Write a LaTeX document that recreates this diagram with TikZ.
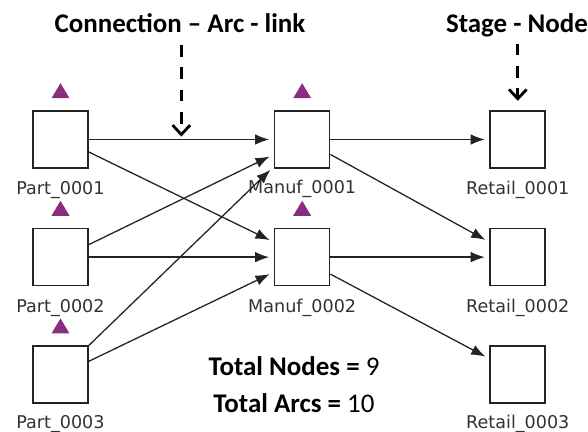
\documentclass[tikz,border=0pt]{standalone}
\usepackage{fontspec}
\setmainfont{Carlito}
\newfontfamily\stagefont{DejaVu Sans}
\usepackage{xcolor}
\usetikzlibrary{arrows.meta, calc, positioning}

\definecolor{flagpurple}{RGB}{136,45,128}
\definecolor{boxgray}{RGB}{35,35,35}
\definecolor{labelgray}{RGB}{50,50,50}

\begin{document}
\begin{tikzpicture}[x=0.03cm, y=-0.03cm,
    stage/.style={draw=boxgray, line width=1.4pt, fill=white, minimum width=1.65cm, minimum height=1.71cm, inner sep=0pt},
    lbl/.style={text=labelgray, font=\stagefont\fontsize{15}{17}\selectfont, inner sep=0pt, anchor=base},
    arc/.style={line width=1.1pt, draw=boxgray, shorten >=4pt, -{Latex[length=12pt, width=9pt]}},
    pointer/.style={line width=2.6pt, dash pattern=on 10pt off 9pt, -{Straight Barb[length=8pt, width=15pt, line width=2.4pt]}},
    title/.style={font=\bfseries\fontsize{23}{27}\selectfont, inner sep=0pt, anchor=base},
    flag/.style={fill=flagpurple}]
    \useasboundingbox (0,0) rectangle (588,432);

    % Stufen: Teile, Fertigung, Handel
    \node[stage] (p1) at (60.5,139.5) {};
    \node[stage, below=1.77cm of p1] (p2) {};
    \node[stage, below=1.77cm of p2] (p3) {};
    \node[stage, right=5.55cm of p1] (m1) {};
    \node[stage, right=5.55cm of p2] (m2) {};
    \node[stage, right=4.77cm of m1] (r1) {};
    \node[stage, right=4.77cm of m2] (r2) {};
    \node[stage, below=1.77cm of r2] (r3) {};

    % Beschriftungen
    \node[lbl] (p1l) at ($(p1.south)+(0,26)$) {Part\_0001};
    \node[lbl] (p2l) at ($(p2.south)+(0,26)$) {Part\_0002};
    \node[lbl] (p3l) at ($(p3.south)+(0,24)$) {Part\_0003};
    \node[lbl] (m1l) at ($(m1.south)+(0,25)$) {Manuf\_0001};
    \node[lbl] (m2l) at ($(m2.south)+(0,26)$) {Manuf\_0002};
    \node[lbl] (r1l) at ($(r1.south)+(0,26)$) {Retail\_0001};
    \node[lbl] (r2l) at ($(r2.south)+(0,26)$) {Retail\_0002};
    \node[lbl] (r3l) at ($(r3.south)+(0,24)$) {Retail\_0003};

    % Markierungen ueber den Stufen
    \foreach \n in {p1,p2,p3,m1,m2}
        \fill[flag] ($(\n.north)+(-9,-12)$) -- ++(18,0) -- ++(-9,-15) -- cycle;

    % Verbindungen
    \draw[arc] (p1.east) -- (m1.west);
    \draw[arc] ($(p1.east)+(0,12.5)$) -- ($(m2.west)+(0,-15)$);
    \draw[arc] ($(p2.east)+(0,-12.5)$) -- ($(m1.west)+(0,15)$);
    \draw[arc] (p2.east) -- (m2.west);
    \draw[arc] (p3.north east) -- ($(m1.west)+(0,27)$);
    \draw[arc] ($(p3.east)+(0,-13.5)$) -- ($(m2.west)+(0,15)$);
    \draw[arc] (m1.east) -- (r1.west);
    \draw[arc] ($(m1.east)+(0,15)$) -- ($(r2.west)+(0,-15)$);
    \draw[arc] (m2.east) -- (r2.west);
    \draw[arc] ($(m2.east)+(0,17)$) -- ($(r3.west)+(0,-16)$);

    % Erklaerungen oben
    \node[title] (conntxt) at (180,33) {Connection -- Arc - link};
    \node[title] (stagetxt) at (517,33) {Stage - Node};
    \coordinate (arcmid) at ($(p1.east)!0.5!(m1.west)$);
    \draw[pointer, shorten <=10pt, shorten >=2.5pt] (conntxt.south -| arcmid) -- (arcmid);
    \draw[pointer, shorten <=5pt, shorten >=8pt] (stagetxt.south -| r1.north) -- (r1.north);

    % Summen
    \node[title] (totnodes) at (294,375) {Total Nodes = \mdseries 9};
    \node[title] (totarcs) at (294,412) {Total Arcs = \mdseries 10};
\end{tikzpicture}
\end{document}
